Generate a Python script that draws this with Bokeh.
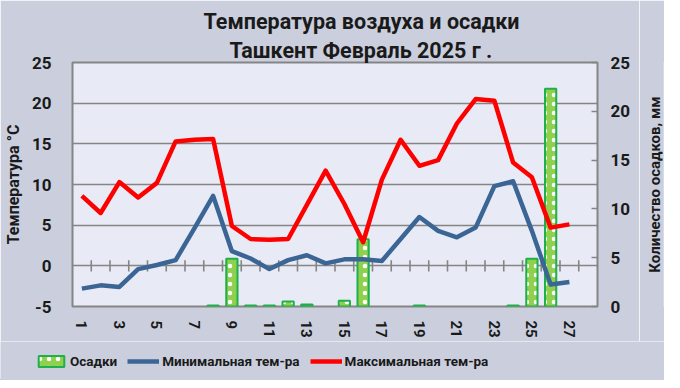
from bokeh.plotting import figure
from bokeh.layouts import column, row
from bokeh.models import (Range1d, LinearAxis, FixedTicker, Title, Legend, LegendItem,
                          ColumnDataSource)
from bokeh.embed import file_html
from bokeh.resources import INLINE

# ---- data ----
days = list(range(1, 28))
precip_mm = [0, 0, 0, 0, 0, 0, 0, 0.1, 4.9, 0.1, 0.1, 0.5, 0.2, 0, 0.6, 6.9, 0, 0, 0.1,
             0, 0, 0, 0, 0.1, 4.9, 22.3, 0]
t_min = [-2.8, -2.4, -2.6, -0.4, 0.1, 0.7, 4.6, 8.6, 1.8, 0.9, -0.4, 0.7, 1.3, 0.3, 0.8,
         0.8, 0.6, 3.3, 6.0, 4.3, 3.5, 4.7, 9.8, 10.4, 4.3, -2.3, -2.0]
t_max = [8.6, 6.5, 10.3, 8.4, 10.2, 15.3, 15.5, 15.6, 4.9, 3.3, 3.2, 3.3, 7.5, 11.7, 7.6,
         2.9, 10.6, 15.5, 12.3, 13.0, 17.5, 20.5, 20.3, 12.7, 10.9, 4.7, 5.1]
x_tick_labels = [1, 3, 5, 7, 9, 11, 13, 15, 17, 19, 21, 23, 25, 27]
temp_ticks = [-5, 0, 5, 10, 15, 20, 25]
precip_ticks = [0, 5, 10, 15, 20, 25]
n_days_in_month = 28

title_1 = "Температура воздуха и осадки"
title_2 = "Ташкент  Февраль 2025 г ."
left_label = "Температура °С"
right_label = "Количество осадков, мм"
legend_labels = ["Осадки", "Минимальная тем-ра", "Максимальная тем-ра"]

FONT = "Roboto"
INK = "#1a1a1a"
GRID = "#858585"
PAGE_BG = "#CBCFDD"
BAR_STYLE = dict(fill_color="#8FD14F", line_color="#1FAF4B", line_width=2,
                 hatch_pattern="dot", hatch_color="white", hatch_scale=9, hatch_weight=1.3)
MIN_STYLE = dict(line_color="#3A6594", line_width=4.5, line_join="round")
MAX_STYLE = dict(line_color="#FF0000", line_width=4.5, line_join="round")

MAIN_W, MAIN_H, SIDE_W, LEG_H = 639, 341, 25, 39
FRAME_W, BORDER_L, BORDER_T, BORDER_B = 531, 66, 62, 35

bar_days = [d for d, v in zip(days, precip_mm) if v > 0]
bar_vals = [v for v in precip_mm if v > 0]
bars_src = ColumnDataSource(dict(day=bar_days, mm=bar_vals))
line_src = ColumnDataSource(dict(day=days, tmin=t_min, tmax=t_max))
bounds = [d + 0.5 for d in days]
tick_src = ColumnDataSource(dict(x=bounds, lo=[-0.7] * len(bounds), hi=[0.7] * len(bounds)))

p = figure(width=MAIN_W, height=MAIN_H, output_backend="svg", toolbar_location=None,
           x_range=Range1d(0.5, n_days_in_month + 0.5),
           y_range=Range1d(temp_ticks[0], temp_ticks[-1]),
           min_border_left=BORDER_L, min_border_right=MAIN_W - BORDER_L - FRAME_W,
           min_border_top=BORDER_T, min_border_bottom=BORDER_B,
           background_fill_color="#E8EAF5", border_fill_color=PAGE_BG)
p.extra_y_ranges = {"precip": Range1d(precip_ticks[0], precip_ticks[-1])}

p.outline_line_color = GRID
p.outline_line_width = 2

# grids
p.ygrid.ticker = FixedTicker(ticks=temp_ticks)
p.ygrid.grid_line_color = GRID
p.ygrid.grid_line_width = 1.6
p.xgrid.grid_line_color = None

# left axis
ya = p.yaxis[0]
ya.ticker = FixedTicker(ticks=temp_ticks)
ya.major_label_overrides = {t: str(t) for t in temp_ticks}
ya.axis_line_color = None
ya.major_tick_line_color = None
ya.minor_tick_line_color = None
ya.major_label_standoff = 15
ya.major_label_text_font = FONT
ya.major_label_text_font_style = "bold"
ya.major_label_text_font_size = "17px"
ya.major_label_text_color = INK
ya.axis_label = left_label
ya.axis_label_text_font = FONT
ya.axis_label_text_font_style = "bold"
ya.axis_label_text_font_size = "16px"
ya.axis_label_standoff = 6
ya.axis_label_text_color = INK

# bottom axis (labels only)
xa = p.xaxis[0]
xa.ticker = FixedTicker(ticks=x_tick_labels)
xa.axis_line_color = None
xa.major_tick_line_color = None
xa.minor_tick_line_color = None
xa.major_label_orientation = "vertical"
xa.major_label_standoff = 8
xa.major_label_text_font = FONT
xa.major_label_text_font_style = "bold"
xa.major_label_text_font_size = "15px"
xa.major_label_text_color = INK

# right axis (its title is drawn in the side strip, reading bottom-to-top)
ra = LinearAxis(y_range_name="precip", ticker=FixedTicker(ticks=precip_ticks))
ra.axis_line_color = None
ra.major_tick_in = 6
ra.major_tick_out = 0
ra.major_tick_line_color = GRID
ra.major_tick_line_width = 1.5
ra.minor_tick_line_color = None
ra.major_label_standoff = 13
ra.major_label_text_font = FONT
ra.major_label_text_font_style = "bold"
ra.major_label_text_font_size = "17px"
ra.major_label_text_color = INK
p.add_layout(ra, "right")

# glyphs
p.vbar(x="day", top="mm", bottom=0, width=0.6, source=bars_src, y_range_name="precip",
       **BAR_STYLE)
# category-boundary tick marks on the zero line
p.segment(x0="x", y0="lo", x1="x", y1="hi", source=tick_src, line_color=GRID, line_width=1.6)
p.line("day", "tmin", source=line_src, **MIN_STYLE)
p.line("day", "tmax", source=line_src, **MAX_STYLE)

# titles (the first one in p.above is the outermost)
p.title.text = title_1
p.title.align = "left"
p.title.offset = 131
p.title.standoff = 3
p.title.text_font = FONT
p.title.text_font_style = "bold"
p.title.text_font_size = "21.5px"
p.title.text_color = INK
p.add_layout(Title(text=title_2, align="left", offset=157, standoff=0, text_font=FONT,
                   text_font_style="bold", text_font_size="21.5px", text_color=INK), "above")

# right strip: the precipitation axis title as a left-axis label (bottom-to-top)
side = figure(width=SIDE_W, height=MAIN_H, output_backend="svg", toolbar_location=None,
              x_range=Range1d(0, 1), y_range=Range1d(0, 1),
              min_border_left=SIDE_W - 1, min_border_right=0,
              min_border_top=BORDER_T, min_border_bottom=BORDER_B,
              x_axis_location=None, y_axis_location="left",
              background_fill_color=PAGE_BG, border_fill_color=PAGE_BG)
side.outline_line_color = None
side.grid.visible = False
sa = side.yaxis[0]
sa.ticker = FixedTicker(ticks=[])
sa.axis_line_color = None
sa.major_tick_line_color = None
sa.minor_tick_line_color = None
sa.major_tick_in = 0
sa.major_tick_out = 0
sa.minor_tick_out = 0
sa.major_label_standoff = 0
sa.major_label_text_font_size = "0px"
sa.axis_label = right_label
sa.axis_label_standoff = 0
sa.axis_label_text_font = FONT
sa.axis_label_text_font_style = "bold"
sa.axis_label_text_font_size = "15px"
sa.axis_label_text_color = INK

# legend strip below the chart
lg = figure(width=MAIN_W + SIDE_W, height=LEG_H, output_backend="svg", toolbar_location=None,
            x_range=Range1d(0, 1), y_range=Range1d(0, 1), min_border=0,
            x_axis_location=None, y_axis_location=None,
            background_fill_color=PAGE_BG, border_fill_color=PAGE_BG)
lg.outline_line_color = None
lg.grid.visible = False
proxy = ColumnDataSource(dict(x=[-10, -9], y=[-10, -9]))  # legend proxies, off-screen
r_bar = lg.vbar(x="x", top="y", width=0.6, source=proxy, **BAR_STYLE)
r_min = lg.line("x", "y", source=proxy, **MIN_STYLE)
r_max = lg.line("x", "y", source=proxy, **MAX_STYLE)
legend = Legend(items=[LegendItem(label=legend_labels[0], renderers=[r_bar]),
                       LegendItem(label=legend_labels[1], renderers=[r_min]),
                       LegendItem(label=legend_labels[2], renderers=[r_max])],
                orientation="horizontal", location=(35, 11), padding=0, margin=0,
                spacing=10, glyph_width=32, glyph_height=14, label_standoff=3,
                label_text_font=FONT, label_text_font_style="bold",
                label_text_font_size="13.5px", label_text_color=INK,
                background_fill_alpha=0, border_line_color=None)
lg.add_layout(legend)

page = column(row(p, side, spacing=0), lg, spacing=0)
open("out.html", "w").write(file_html(page, INLINE))
